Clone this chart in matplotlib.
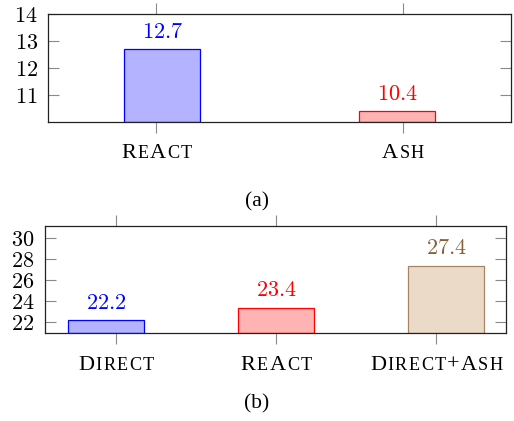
import matplotlib

matplotlib.use("Agg")
import matplotlib.pyplot as plt
from matplotlib import font_manager, ft2font
from matplotlib.transforms import IdentityTransform

plt.rcParams["mathtext.fontset"] = "cm"

# (a) top panel
top_labels = ["ReAct", "Ash"]
top_values = [12.7, 10.4]
top_ticks = [11, 12, 13, 14]

# (b) bottom panel
bottom_labels = ["Direct", "ReAct", "Direct+Ash"]
bottom_values = [22.2, 23.4, 27.4]
bottom_ticks = [22, 24, 26, 28, 30]

BLUE = dict(face="#b3b3ff", edge="#0000ff", text="#0000ff")
RED = dict(face="#ffb3b3", edge="#ff0000", text="#ff0000")
BROWN = dict(face="#ecdac8", edge="#a58463", text="#84603c")

W, H = 514, 421
DPI = 100
fig = plt.figure(figsize=(W / DPI, H / DPI), dpi=DPI)

SERIF = font_manager.findfont(font_manager.FontProperties(family="Liberation Serif"))


def px_axes(left, top, right, bottom):
    return fig.add_axes([left / W, 1 - bottom / H, (right - left) / W, (bottom - top) / H])


def style_axes(ax, ticks):
    for sp in ax.spines.values():
        sp.set_linewidth(0.9)
        sp.set_color("#222222")
    ax.set_yticks(ticks)
    ax.set_yticklabels([f"${t}$" for t in ticks], fontsize=16)
    ax.tick_params(axis="y", direction="in", length=8, width=0.8, color="#8a8a8a",
                   right=True, pad=7.5)
    ax.tick_params(axis="x", direction="out", length=8, width=0.8, color="#8a8a8a",
                   top=True, labelbottom=False)


def bars(ax, values, shifts, width, colors):
    base = ax.get_ylim()[0]
    for i, (v, s, c) in enumerate(zip(values, shifts, colors)):
        ax.bar(i + s, v - base, width, bottom=base,
               color=c["face"], edgecolor=c["edge"], linewidth=0.9, zorder=2)
        ax.annotate(f"${v}$", (i + s, v), xytext=(0, 12.5), textcoords="offset points",
                    ha="center", va="center", fontsize=16, color=c["text"])


def advance(ch, size):
    font = ft2font.FT2Font(SERIF)
    font.set_size(size, DPI)
    return font.load_char(ord(ch)).linearHoriAdvance / 65536


def small_caps(ax, x, word, size=16, ratio=0.82, track=1.3, drop=36.8):
    # fake small caps: lowercase letters drawn as smaller capitals
    renderer = fig.canvas.get_renderer()
    x_px = ax.transData.transform((x, 0))[0]
    y_px = ax.get_window_extent(renderer).y0 - drop
    pieces = [(ch.upper(), size * ratio if ch.islower() else size) for ch in word]
    widths = [advance(ch, s) for ch, s in pieces]
    total = sum(widths) + track * (len(pieces) - 1)
    pos = x_px - total / 2
    for (ch, s), w in zip(pieces, widths):
        fig.text(pos, y_px, ch, fontsize=s, family="Liberation Serif",
                 transform=IdentityTransform(), ha="left", va="baseline")
        pos += w + track


# (a)
ax1 = px_axes(48.3, 14.3, 510.7, 121.7)
ax1.set_xlim(-0.438, 1.437)
ax1.set_ylim(10, 14)
style_axes(ax1, top_ticks)
ax1.set_xticks(range(len(top_labels)))
bars(ax1, top_values, [0.024, -0.024], 0.308, [BLUE, RED])
for i, lab in enumerate(top_labels):
    small_caps(ax1, i, lab)
fig.text(256.7 / W, 1 - 201.5 / H, "(a)", fontsize=15.5, family="Liberation Serif",
         ha="center", va="center")

# (b)
ax2 = px_axes(45, 225.7, 505.7, 333)
ax2.set_xlim(-0.443, 2.433)
ax2.set_ylim(21, 31.2)
style_axes(ax2, bottom_ticks)
ax2.set_xticks(range(len(bottom_labels)))
bars(ax2, bottom_values, [-0.06, 0.0, 0.06], 0.475, [BLUE, RED, BROWN])
for i, lab in enumerate(bottom_labels):
    small_caps(ax2, i, lab)
fig.text(256.7 / W, 1 - 404 / H, "(b)", fontsize=15.5, family="Liberation Serif",
         ha="center", va="center")

fig.savefig("out.png", dpi=DPI)
plt.close(fig)
